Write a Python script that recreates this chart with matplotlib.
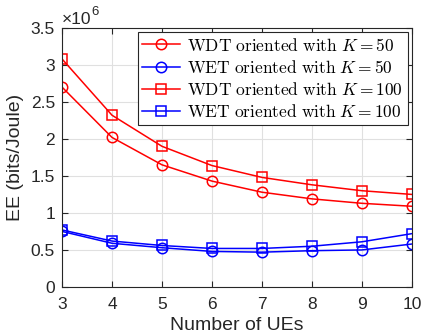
import matplotlib
matplotlib.use("Agg")
import matplotlib.pyplot as plt

# data (EE in bits/Joule, scaled by 1e6)
num_ues = [3, 4, 5, 6, 7, 8, 9, 10]
wdt_k50 = [2.70, 2.02, 1.65, 1.43, 1.28, 1.19, 1.13, 1.09]
wet_k50 = [0.75, 0.59, 0.53, 0.48, 0.47, 0.49, 0.50, 0.58]
wdt_k100 = [3.08, 2.32, 1.90, 1.64, 1.48, 1.38, 1.30, 1.25]
wet_k100 = [0.77, 0.62, 0.56, 0.52, 0.52, 0.55, 0.61, 0.72]

plt.rcParams['mathtext.fontset'] = 'cm'
plt.rcParams['font.family'] = ['Liberation Sans', 'DejaVu Sans']
ax_col = '#262626'

fig = plt.figure(figsize=(4.22, 3.36), dpi=100)
ax = fig.add_axes([0.147, 0.146, 0.829, 0.771])

mk = dict(markersize=7.5, markerfacecolor='none', linewidth=1.1, markeredgewidth=1.1)
ax.plot(num_ues, wdt_k50, '-o', color='red', label=r'$\mathrm{WDT\ oriented\ with}\ K=50$', **mk)
ax.plot(num_ues, wet_k50, '-o', color='blue', label=r'$\mathrm{WET\ oriented\ with}\ K=50$', **mk)
ax.plot(num_ues, wdt_k100, '-s', color='red', label=r'$\mathrm{WDT\ oriented\ with}\ K=100$', **mk)
ax.plot(num_ues, wet_k100, '-s', color='blue', label=r'$\mathrm{WET\ oriented\ with}\ K=100$', **mk)

ax.set_xlim(3, 10)
ax.set_ylim(0, 3.5)
ax.set_xticks(num_ues)
ax.set_yticks([0, 0.5, 1, 1.5, 2, 2.5, 3, 3.5])
ax.set_yticklabels(['0', '0.5', '1', '1.5', '2', '2.5', '3', '3.5'])
ax.grid(True, color='#e0e0e0', linewidth=0.8)
ax.set_axisbelow(True)
ax.tick_params(direction='in', top=True, right=True, labelsize=12.5, colors=ax_col, length=4)
ax.tick_params(axis='x', pad=7)
ax.tick_params(axis='y', pad=5)
for s in ax.spines.values():
    s.set_color(ax_col)
    s.set_linewidth(0.8)

ax.set_xlabel('Number of UEs', fontsize=14, color=ax_col, labelpad=4)
ax.set_ylabel('EE (bits/Joule)', fontsize=14, color=ax_col, labelpad=5)
ax.text(0.0, 1.005, '\u00d710', transform=ax.transAxes, fontsize=12.5,
        color=ax_col, ha='left', va='bottom')
ax.text(0.083, 1.04, '6', transform=ax.transAxes, fontsize=9.5,
        color=ax_col, ha='left', va='bottom')

leg = ax.legend(loc='upper right', fontsize=12.5,
                fancybox=False, edgecolor=ax_col, framealpha=1, borderpad=0.25,
                labelspacing=0.3, handlelength=2.2, handletextpad=0.4,
                borderaxespad=0.25)
leg.get_frame().set_linewidth(0.8)

fig.savefig('out.png', dpi=100)
